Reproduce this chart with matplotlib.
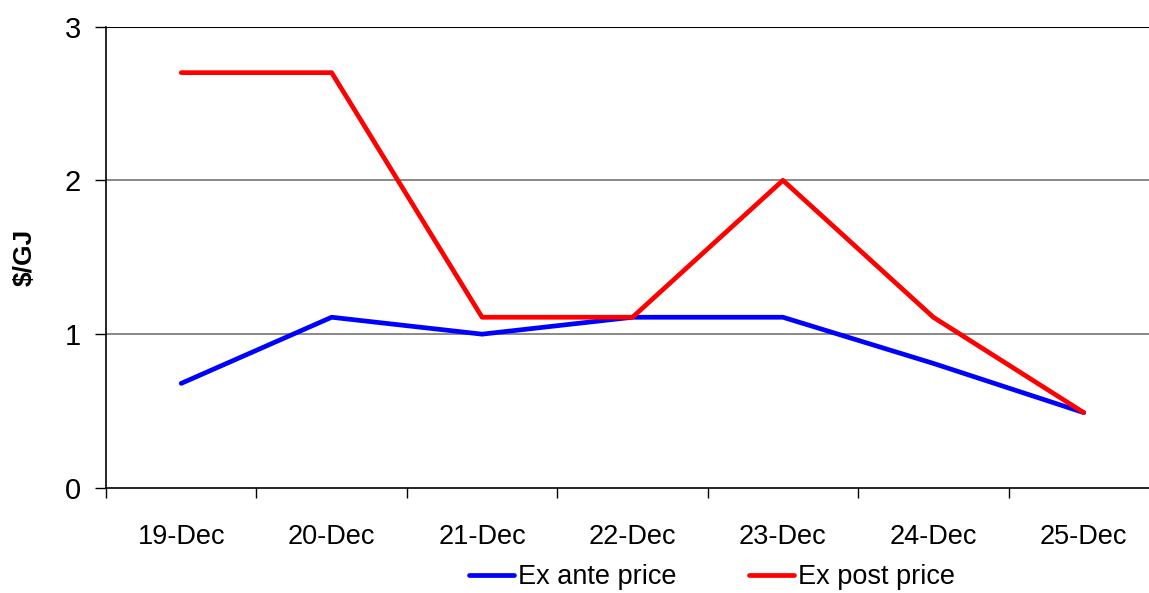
import matplotlib
matplotlib.use("Agg")
import matplotlib.pyplot as plt
from matplotlib.ticker import FixedLocator, NullFormatter, FixedFormatter

plt.rcParams['font.family'] = ['Liberation Sans', 'DejaVu Sans']

days = ["19-Dec", "20-Dec", "21-Dec", "22-Dec", "23-Dec", "24-Dec", "25-Dec"]
ex_ante = [0.68, 1.11, 1.00, 1.11, 1.11, 0.81, 0.49]
ex_post = [2.70, 2.70, 1.11, 1.11, 2.00, 1.11, 0.49]
y_ticks = [0, 1, 2, 3]

fig = plt.figure(figsize=(11.49, 5.93), dpi=100)
ax = fig.add_axes([106 / 1149, 105 / 593, 1053 / 1149, 461.5 / 593])

x = list(range(len(days)))
ax.plot(x, ex_ante, color="#0000FF", lw=3.4, solid_capstyle="round", label="Ex ante price", zorder=3)
ax.plot(x, ex_post, color="#FF0000", lw=3.4, solid_capstyle="round", label="Ex post price", zorder=3)

ax.set_xlim(-0.5, len(days) - 0.5)
ax.set_ylim(0, 3)

# y axis with gray gridlines and a dark top border line
ax.set_yticks(y_ticks)
ax.set_yticklabels([str(v) for v in y_ticks])
for v in y_ticks[1:-1]:
    ax.axhline(v, color="#808080", lw=1.3, zorder=1)
ax.axhline(3, color="#000000", lw=1.5, zorder=1)
ax.tick_params(axis="y", direction="out", length=8, width=1, pad=10, labelsize=21)

# x axis: ticks between categories, labels centered on categories
ax.xaxis.set_major_locator(FixedLocator([i - 0.5 for i in range(len(days) + 1)]))
ax.xaxis.set_major_formatter(NullFormatter())
ax.xaxis.set_minor_locator(FixedLocator(x))
ax.xaxis.set_minor_formatter(FixedFormatter(days))
ax.tick_params(axis="x", which="major", direction="out", length=7, width=1)
ax.tick_params(axis="x", which="minor", length=0, pad=26, labelsize=19.5)

for s in ["top", "right"]:
    ax.spines[s].set_visible(False)
ax.spines["left"].set_linewidth(1.2)
ax.spines["bottom"].set_linewidth(1.2)

ax.set_ylabel("$/GJ", fontsize=19, fontweight="bold", labelpad=20)

fig.legend(loc="center", bbox_to_anchor=(712 / 1149, 16 / 593), ncol=2, frameon=False,
           fontsize=19.5, handlelength=1.65, handletextpad=0.15, columnspacing=2.7)

fig.savefig("out.png", dpi=100)
